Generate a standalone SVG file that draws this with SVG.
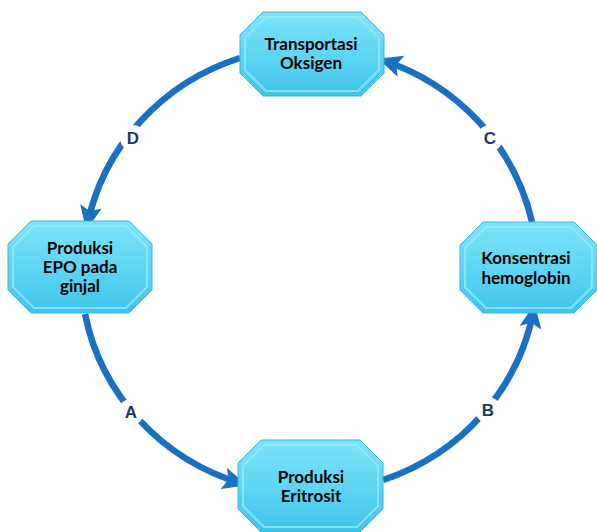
<svg xmlns="http://www.w3.org/2000/svg" width="597" height="532" viewBox="0 0 597 532">
<defs>
<linearGradient id="g" x1="0" y1="0" x2="0" y2="1">
<stop offset="0" stop-color="#7fe3fa"/>
<stop offset="0.5" stop-color="#5fd6f4"/>
<stop offset="1" stop-color="#3fc3ea"/>
</linearGradient>
<marker id="ah" markerUnits="userSpaceOnUse" markerWidth="24" markerHeight="22" viewBox="0 0 24 22" refX="20" refY="11" orient="auto">
<path d="M0,0 L24,11 L0,22 L5,11 Z" fill="#1a70c2"/>
</marker>
<style>
.node polygon.o{fill:url(#g);stroke:#3ab8e0;stroke-width:1}
.node polygon.i{fill:none;stroke:#9becff;stroke-width:2;opacity:0.7}
.node text{font-family:Lato,"Liberation Sans",sans-serif;font-weight:bold;font-size:17px;fill:#000;text-anchor:middle}
.arc{fill:none;stroke:#1a70c2;stroke-width:6.5;marker-end:url(#ah)}
.gap{fill:#fff}
.lbl{font-family:"Liberation Sans",sans-serif;font-weight:bold;font-size:17px;fill:#1f3864;text-anchor:middle}
</style>
</defs>
<rect width="597" height="532" fill="#fff"/>
<g id="connectors">
<path class="arc" d="M240,58 A228,222 0 0 0 87,226"/>
<path class="arc" d="M85,314 A228,222 0 0 0 243,484"/>
<path class="arc" d="M383,480 A228,222 0 0 0 534,308"/>
<path class="arc" d="M532,222 A228,222 0 0 0 382,60"/>
<circle class="gap" cx="133" cy="138" r="13"/>
<circle class="gap" cx="490" cy="138" r="13"/>
<circle class="gap" cx="131" cy="412" r="13"/>
<circle class="gap" cx="488" cy="410" r="13"/>
<text class="lbl" x="133" y="144">D</text>
<text class="lbl" x="490" y="144">C</text>
<text class="lbl" x="131" y="418">A</text>
<text class="lbl" x="488" y="416">B</text>
</g>
<g id="node-top" class="node">
<polygon class="o" points="263,12 361,12 384,35 384,73 361,96 263,96 240,73 240,35"/>
<polygon class="i" points="266,17 358,17 379,38 379,70 358,91 266,91 245,70 245,38"/>
<text x="311" y="50">Transportasi</text>
<text x="311" y="69">Oksigen</text>
</g>
<g id="node-left" class="node">
<polygon class="o" points="31,221 129,221 152,244 152,290 129,313 31,313 8,290 8,244"/>
<polygon class="i" points="34,226 126,226 147,247 147,287 126,308 34,308 13,287 13,247"/>
<text x="80" y="254">Produksi</text>
<text x="80" y="273">EPO pada</text>
<text x="80" y="292">ginjal</text>
</g>
<g id="node-right" class="node">
<polygon class="o" points="483,222 574,222 597,245 597,290 574,313 483,313 460,290 460,245"/>
<polygon class="i" points="486,227 571,227 592,248 592,287 571,308 486,308 465,287 465,248"/>
<text x="526" y="264">Konsentrasi</text>
<text x="526" y="284">hemoglobin</text>
</g>
<g id="node-bottom" class="node">
<polygon class="o" points="261,440 360,440 383,463 383,509 360,532 261,532 238,509 238,463"/>
<polygon class="i" points="264,445 357,445 378,466 378,506 357,527 264,527 243,506 243,466"/>
<text x="311" y="483">Produksi</text>
<text x="311" y="502">Eritrosit</text>
</g>
</svg>
